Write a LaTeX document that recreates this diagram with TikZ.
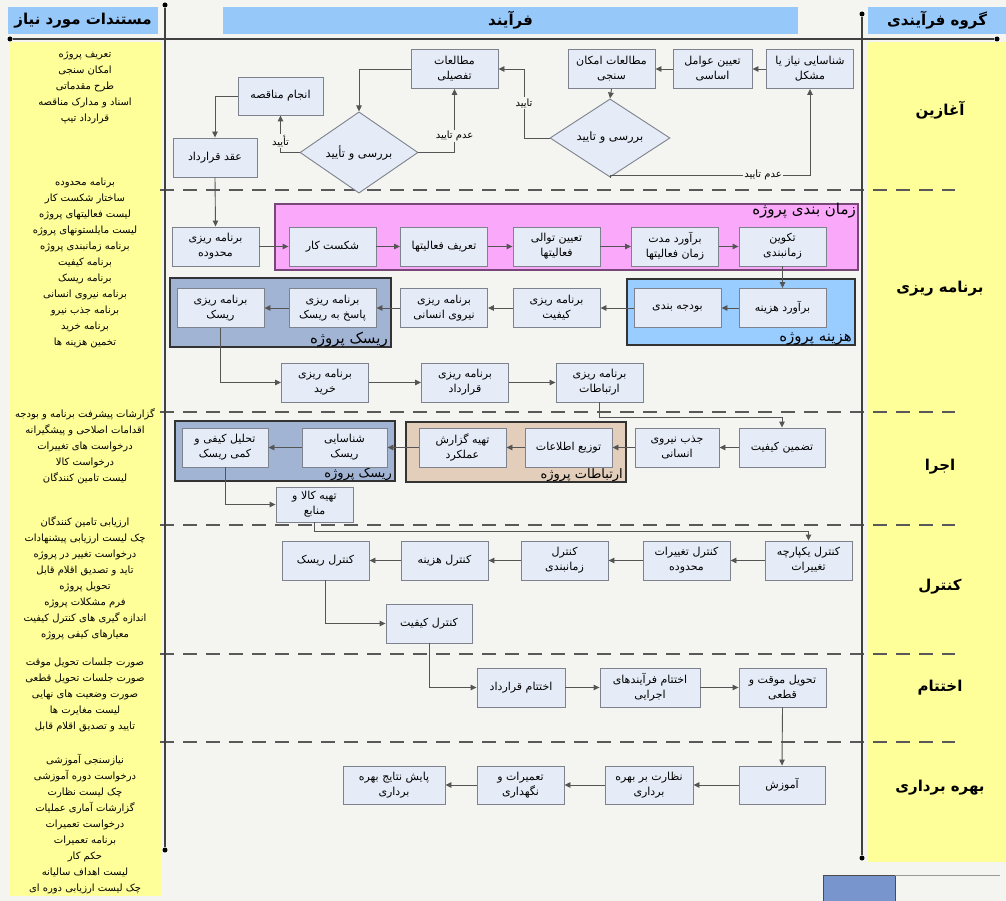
\documentclass[tikz,border=0pt]{standalone}
\usepackage{fontspec}
\usepackage{xcolor}
\usepackage{tikz}
\usetikzlibrary{shapes.geometric,arrows.meta,positioning,calc}
\newfontfamily\fafont[Script=Arabic]{DejaVu Sans}
\TeXXeTstate=1
\newcommand{\fa}[1]{\beginR#1\endR}
\definecolor{paperbg}{RGB}{244,244,240}
\definecolor{colyellow}{RGB}{255,255,153}
\definecolor{headblue}{RGB}{150,200,250}
\definecolor{boxfill}{RGB}{230,236,247}
\definecolor{boxline}{RGB}{125,130,140}
\definecolor{linegray}{RGB}{85,85,85}
\definecolor{schedpink}{RGB}{250,168,250}
\definecolor{schedline}{RGB}{120,70,120}
\definecolor{costblue}{RGB}{153,204,255}
\definecolor{riskblue}{RGB}{162,180,212}
\definecolor{commtan}{RGB}{226,206,186}
\definecolor{legendblue}{RGB}{120,150,205}
\tikzset{
  proc/.style={draw=boxline, fill=boxfill, line width=0.9pt, minimum width=87, minimum height=39,
    align=center, inner sep=1pt, font=\fafont\fontsize{11}{15}\selectfont},
  decision/.style={diamond, draw=boxline, fill=boxfill, line width=0.9pt, minimum width=120,
    minimum height=48, inner sep=0pt, font=\fafont\fontsize{11.5}{13}\selectfont},
  arr/.style={draw=linegray, line width=0.9pt, -{Triangle[length=6pt,width=5.5pt]}},
  yes/.style={fill=paperbg, inner sep=1pt, font=\fafont\fontsize{10}{11}\selectfont},
  lane/.style={font=\fafont\bfseries\fontsize{15}{17}\selectfont},
  head/.style={fill=headblue, inner sep=0pt, minimum height=27, font=\fafont\bfseries\fontsize{15}{17}\selectfont},
  docs/.style={align=center, inner sep=0pt, font=\fafont\fontsize{10}{16}\selectfont},
  grp/.style={line width=1.1pt},
  grplabel/.style={inner sep=1pt, font=\fafont\fontsize{15}{16}\selectfont},
  dot/.style={circle, fill=black, inner sep=0pt, minimum size=5pt},
  laneline/.style={draw=black!75, line width=1.2pt},
  sep/.style={draw=black!65, line width=1.6pt, dash pattern=on 14pt off 9pt},
}
\begin{document}
\begin{tikzpicture}[x=1pt, y=-1pt]
    \useasboundingbox (0,0) rectangle (1006,901);
    \fill[paperbg] (0,0) rectangle (1006,901);
    % columns
    \fill[colyellow] (10,42) rectangle (161,896);
    \fill[colyellow] (868,42) rectangle (1006,862);
    \node[head, minimum width=150] (hdocs) at (83,20.5) {\fa{مستندات مورد نیاز}};
    \node[head, minimum width=575] (hproc) at (510.5,20.5) {\fa{فرآیند}};
    \node[head, minimum width=138] (hgroup) at (937,20.5) {\fa{گروه فرآیندی}};
    % lane separators
    \foreach \y in {190,412,525,654,742}
        \draw[sep] (160,\y) -- (955,\y);
    \node[dot] (dl1) at (165,5) {};
    \node[dot] (dl2) at (165,850) {};
    \node[dot] (dr1) at (862,14) {};
    \node[dot] (dr2) at (862,858) {};
    \node[dot] (dh1) at (10,39) {};
    \node[dot] (dh2) at (997,39) {};
    \draw[laneline] (dl1) -- (dl2);
    \draw[laneline] (dr1) -- (dr2);
    \draw[laneline] (dh1) -- (dh2);

    % group labels
    \node[lane] (gstart) at (940,110) {\fa{آغازین}};
    \node[lane] (gplan) at (940,289) {\fa{برنامه ریزی}};
    \node[lane] (gexec) at (940,467) {\fa{اجرا}};
    \node[lane] (gctrl) at (940,587) {\fa{کنترل}};
    \node[lane] (gclose) at (940,688) {\fa{اختتام}};
    \node[lane] (goper) at (940,788) {\fa{بهره برداری}};

    % documents
    \node[docs] (doc1) at (85,88) {\fa{تعریف پروژه}\\\fa{امکان سنجی}\\\fa{طرح مقدماتی}\\\fa{اسناد و مدارک مناقصه}\\\fa{قرارداد تیپ}};
    \node[docs] (doc2) at (85,263) {\fa{برنامه محدوده}\\\fa{ساختار شکست کار}\\\fa{لیست فعالیتهای پروژه}\\\fa{لیست مایلستونهای پروژه}\\\fa{برنامه زمانبندی پروژه}\\\fa{برنامه کیفیت}\\\fa{برنامه ریسک}\\\fa{برنامه نیروی انسانی}\\\fa{برنامه جذب نیرو}\\\fa{برنامه خرید}\\\fa{تخمین هزینه ها}};
    \node[docs] (doc3) at (85,446) {\fa{گزارشات پیشرفت برنامه و بودجه}\\\fa{اقدامات اصلاحی و پیشگیرانه}\\\fa{درخواست های تغییرات}\\\fa{درخواست کالا}\\\fa{لیست تامین کنندگان}};
    \node[docs] (doc4) at (85,578) {\fa{ارزیابی تامین کنندگان}\\\fa{چک لیست ارزیابی پیشنهادات}\\\fa{درخواست تغییر در پروژه}\\\fa{تاید و تصدیق اقلام قابل}\\\fa{تحویل پروژه}\\\fa{فرم مشکلات پروژه}\\\fa{اندازه گیری های کنترل کیفیت}\\\fa{معیارهای کیفی پروژه}};
    \node[docs] (doc5) at (85,695) {\fa{صورت جلسات تحویل موقت}\\\fa{صورت جلسات تحویل قطعی}\\\fa{صورت وضعیت های نهایی}\\\fa{لیست مغایرت ها}\\\fa{تایید و تصدیق اقلام قابل}};
    \node[docs] (doc6) at (85,824) {\fa{نیازسنجی آموزشی}\\\fa{درخواست دوره آموزشی}\\\fa{چک لیست نظارت}\\\fa{گزارشات آماری عملیات}\\\fa{درخواست تعمیرات}\\\fa{برنامه تعمیرات}\\\fa{حکم کار}\\\fa{لیست اهداف سالیانه}\\\fa{چک لیست ارزیابی دوره ای}};

    % containers
    \draw[grp, draw=schedline, fill=schedpink] (275,204) rectangle (858,270);
    \draw[grp, draw=black!80, fill=costblue] (627,279) rectangle (855,345);
    \draw[grp, draw=black!80, fill=riskblue] (170,278) rectangle (391,347);
    \draw[grp, draw=black!80, fill=commtan] (406,422) rectangle (626,482);
    \draw[grp, draw=black!80, fill=riskblue] (175,421) rectangle (395,481);
    \node[grplabel, anchor=north east] (tsched) at (857,202) {\fa{زمان بندی پروژه}};
    \node[grplabel, anchor=south east] (tcost) at (853,346) {\fa{هزینه پروژه}};
    \node[grplabel, anchor=south east] (trisk1) at (389,348) {\fa{ریسک پروژه}};
    \node[grplabel, anchor=south east, font=\fafont\fontsize{13}{14}\selectfont] (tcomm) at (624,483) {\fa{ارتباطات پروژه}};
    \node[grplabel, anchor=south east, font=\fafont\fontsize{13}{14}\selectfont] (trisk2) at (393,482) {\fa{ریسک پروژه}};

    % initiation
    \node[proc] (need) at (810,69) {\fa{شناسایی نیاز یا}\\\fa{مشکل}};
    \node[proc, minimum width=79] (basic) at (712.5,69) {\fa{تعیین عوامل}\\\fa{اساسی}};
    \node[proc] (feas) at (611.5,69) {\fa{مطالعات امکان}\\\fa{سنجی}};
    \node[decision] (chk1) at (610,138) {\fa{بررسی و تایید}};
    \node[proc] (detail) at (454.5,69) {\fa{مطالعات}\\\fa{تفصیلی}};
    \node[decision, minimum width=118, minimum height=47] (chk2) at (359,152.5) {\fa{بررسی و تأیید}};
    \node[proc, minimum width=85, minimum height=38] (tender) at (280.5,96) {\fa{انجام مناقصه}};
    \node[proc, minimum width=84] (contract) at (215,157.5) {\fa{عقد قرارداد}};

    % planning
    \node[proc] (scope) at (215.5,246.5) {\fa{برنامه ریزی}\\\fa{محدوده}};
    \node[proc] (wbs) at (332.5,246.5) {\fa{شکست کار}};
    \node[proc] (actdef) at (444,246.5) {\fa{تعریف فعالیتها}};
    \node[proc] (seq) at (556.5,246.5) {\fa{تعیین توالی}\\\fa{فعالیتها}};
    \node[proc] (dur) at (675,246.5) {\fa{برآورد مدت}\\\fa{زمان فعالیتها}};
    \node[proc] (sched) at (782.5,246.5) {\fa{تکوین}\\\fa{زمانبندی}};
    \node[proc] (costest) at (782.5,308) {\fa{برآورد هزینه}};
    \node[proc] (budget) at (677.5,308) {\fa{بودجه بندی}};
    \node[proc] (qplan) at (556.5,308) {\fa{برنامه ریزی}\\\fa{کیفیت}};
    \node[proc] (hrplan) at (444,308) {\fa{برنامه ریزی}\\\fa{نیروی انسانی}};
    \node[proc] (resp) at (332.5,308) {\fa{برنامه ریزی}\\\fa{پاسخ به ریسک}};
    \node[proc] (riskplan) at (220.5,308) {\fa{برنامه ریزی}\\\fa{ریسک}};
    \node[proc] (purch) at (325,382.5) {\fa{برنامه ریزی}\\\fa{خرید}};
    \node[proc] (contplan) at (465,382.5) {\fa{برنامه ریزی}\\\fa{قرارداد}};
    \node[proc] (commplan) at (599.5,382.5) {\fa{برنامه ریزی}\\\fa{ارتباطات}};

    % execution
    \node[proc, minimum width=86] (qa) at (782,447.5) {\fa{تضمین کیفیت}};
    \node[proc, minimum width=84] (hire) at (677,447.5) {\fa{جذب نیروی}\\\fa{انسانی}};
    \node[proc] (info) at (568.5,447.5) {\fa{توزیع اطلاعات}};
    \node[proc] (report) at (462.5,447.5) {\fa{تهیه گزارش}\\\fa{عملکرد}};
    \node[proc, minimum width=85] (riskid) at (344.5,447.5) {\fa{شناسایی}\\\fa{ریسک}};
    \node[proc, minimum width=86] (riskan) at (225,447.5) {\fa{تحلیل کیفی و}\\\fa{کمی ریسک}};
    \node[proc, minimum width=77, minimum height=35] (supply) at (314.5,504.5) {\fa{تهیه کالا و}\\\fa{منابع}};

    % control
    \node[proc] (intchg) at (808.5,560.5) {\fa{کنترل یکپارچه}\\\fa{تغییرات}};
    \node[proc] (scopechg) at (686.5,560.5) {\fa{کنترل تغییرات}\\\fa{محدوده}};
    \node[proc] (schedctl) at (564.5,560.5) {\fa{کنترل}\\\fa{زمانبندی}};
    \node[proc] (costctl) at (444.5,560.5) {\fa{کنترل هزینه}};
    \node[proc] (riskctl) at (325.5,560.5) {\fa{کنترل ریسک}};
    \node[proc, minimum width=86] (qctl) at (429,623.5) {\fa{کنترل کیفیت}};

    % closing
    \node[proc, minimum width=88] (contclose) at (521,687.5) {\fa{اختتام قرارداد}};
    \node[proc, minimum width=100] (procclose) at (650,687.5) {\fa{اختتام فرآیندهای}\\\fa{اجرایی}};
    \node[proc] (handover) at (782.5,687.5) {\fa{تحویل موقت و}\\\fa{قطعی}};

    % operation
    \node[proc, minimum width=86, minimum height=38] (train) at (782,785) {\fa{آموزش}};
    \node[proc, minimum width=88, minimum height=38] (superv) at (649,785) {\fa{نظارت بر بهره}\\\fa{برداری}};
    \node[proc, minimum height=38] (maint) at (520.5,785) {\fa{تعمیرات و}\\\fa{نگهداری}};
    \node[proc, minimum width=102, minimum height=38] (monitor) at (394,785) {\fa{پایش نتایج بهره}\\\fa{برداری}};

    % connectors
    \coordinate (rej1) at (810,175);
    \coordinate (ok1) at (524,138);
    \coordinate (toexec) at (782,417);
    \coordinate (toctrl) at (808.5,531);
    \draw[arr] (need.west) -- (basic.east);
    \draw[arr] (basic.west) -- (feas.east);
    \draw[arr] (feas.south) -- (chk1.north);
    \draw[arr] (chk1.south) |- (rej1) -- (need.south);
    \draw[arr] (chk1.west) -- (ok1) |- (detail.east);
    \draw[arr] (detail.west) -| (chk2.north);
    \draw[arr] (chk2.east) -| (detail.south);
    \draw[arr] (chk2.west) -| (tender.south);
    \draw[arr] (tender.west) -| (contract.north);
    \draw[arr] (contract.south) -- (scope.north);
    \draw[arr] (scope.east) -- (wbs.west);
    \draw[arr] (wbs.east) -- (actdef.west);
    \draw[arr] (actdef.east) -- (seq.west);
    \draw[arr] (seq.east) -- (dur.west);
    \draw[arr] (dur.east) -- (sched.west);
    \draw[arr] (sched.south) -- (costest.north);
    \draw[arr] (costest.west) -- (budget.east);
    \draw[arr] (budget.west) -- (qplan.east);
    \draw[arr] (qplan.west) -- (hrplan.east);
    \draw[arr] (hrplan.west) -- (resp.east);
    \draw[arr] (resp.west) -- (riskplan.east);
    \draw[arr] (riskplan.south) |- (purch.west);
    \draw[arr] (purch.east) -- (contplan.west);
    \draw[arr] (contplan.east) -- (commplan.west);
    \draw[arr] (commplan.south) |- (toexec) -- (qa.north);
    \draw[arr] (qa.west) -- (hire.east);
    \draw[arr] (hire.west) -- (info.east);
    \draw[arr] (info.west) -- (report.east);
    \draw[arr] (report.west) -- (riskid.east);
    \draw[arr] (riskid.west) -- (riskan.east);
    \draw[arr] (riskan.south) |- (supply.west);
    \draw[arr] (supply.south) |- (toctrl) -- (intchg.north);
    \draw[arr] (intchg.west) -- (scopechg.east);
    \draw[arr] (scopechg.west) -- (schedctl.east);
    \draw[arr] (schedctl.west) -- (costctl.east);
    \draw[arr] (costctl.west) -- (riskctl.east);
    \draw[arr] (riskctl.south) |- (qctl.west);
    \draw[arr] (qctl.south) |- (contclose.west);
    \draw[arr] (contclose.east) -- (procclose.west);
    \draw[arr] (procclose.east) -- (handover.west);
    \draw[arr] (handover.south) -- (train.north);
    \draw[arr] (train.west) -- (superv.east);
    \draw[arr] (superv.west) -- (maint.east);
    \draw[arr] (maint.west) -- (monitor.east);

    % decision labels
    \node[yes] (no1) at (763,175) {\fa{عدم تایید}};
    \node[yes] (yes1) at (524,103) {\fa{تایید}};
    \node[yes] (no2) at (454.5,136) {\fa{عدم تایید}};
    \node[yes] (yes2) at (280.5,141) {\fa{تأیید}};

    % legend
    \node[draw=black!70, fill=legendblue, minimum width=72, minimum height=28, anchor=north west] (key) at (823,875) {};
    \coordinate (keyend) at (1000,875);
    \draw[draw=black!40, line width=0.8pt] (key.north east) -- (keyend);
\end{tikzpicture}
\end{document}
